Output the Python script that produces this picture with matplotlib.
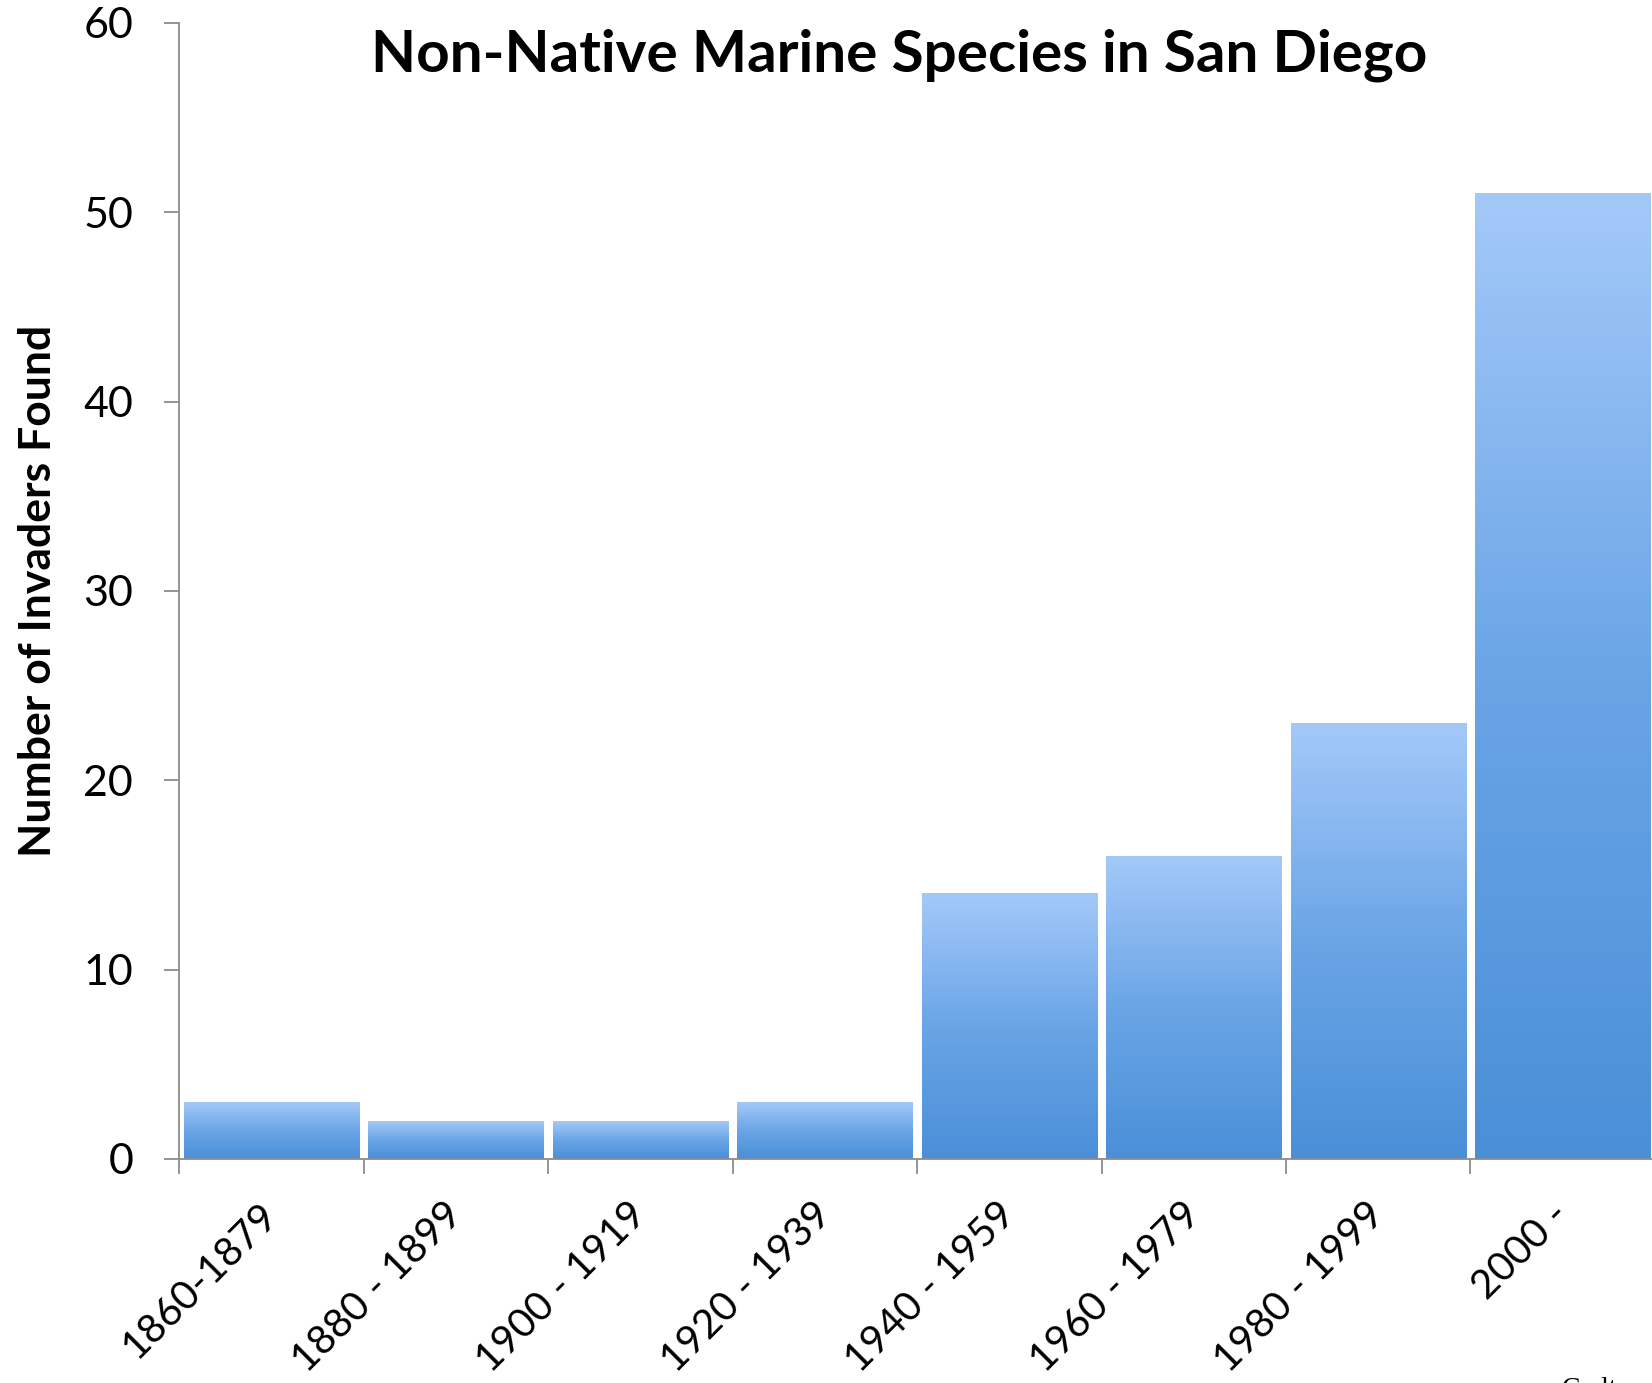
import numpy as np
import matplotlib
matplotlib.use('Agg')
import matplotlib.pyplot as plt
from matplotlib.colors import LinearSegmentedColormap

# Invaders found per time period
periods = ['1860-1879', '1880 - 1899', '1900 - 1919', '1920 - 1939',
           '1940 - 1959', '1960 - 1979', '1980 - 1999', '2000 -']
counts = [3, 2, 2, 3, 14, 16, 23, 51]
y_ticks = [0, 10, 20, 30, 40, 50, 60]

plt.rcParams['font.family'] = ['Lato', 'DejaVu Sans']

fig = plt.figure(figsize=(16.52, 13.83), dpi=100)
ax = fig.add_axes([0.1084, 0.162, 0.8934, 0.8214])

# light blue at the top fading to a deeper blue at the base
cmap = LinearSegmentedColormap.from_list('bar_fade', ['#4a8fd8', '#6aa5e6', '#a4c9f9'])
grad = np.linspace(0, 1, 256).reshape(-1, 1)
width = 0.95
for i, c in enumerate(counts):
    ax.imshow(grad, cmap=cmap, origin='lower', aspect='auto',
              extent=[i - width / 2, i + width / 2, 0, c], zorder=2)

ax.set_xlim(-0.5, len(counts) - 0.5)
ax.set_ylim(0, 60)

for side in ['top', 'right']:
    ax.spines[side].set_visible(False)
for side in ['left', 'bottom']:
    ax.spines[side].set_color('#8c8c8c')
    ax.spines[side].set_linewidth(1.3)

ax.set_yticks(y_ticks)
ax.set_yticklabels([str(v) for v in y_ticks], fontsize=31)
ax.tick_params(axis='y', direction='out', length=11, width=1.3, color='#8c8c8c', pad=22)

# boundary ticks on the x axis, labels sit under each bar
ax.set_xticks(np.arange(len(counts)) - 0.5)
ax.set_xticklabels([])
ax.tick_params(axis='x', which='major', direction='out', length=11, width=1.3, color='#8c8c8c')
ax.set_xticks(np.arange(len(counts)), minor=True)
ax.set_xticklabels(periods, minor=True, fontsize=29, rotation=45, ha='right',
                   va='center', rotation_mode='anchor')
ax.tick_params(axis='x', which='minor', length=0, pad=36)

ax.set_ylabel('Number of Invaders Found', fontsize=32, fontweight='bold')
ax.yaxis.set_label_coords(-0.082, 0.5)

fig.text(0.544, 0.960, 'Non-Native Marine Species in San Diego',
         ha='center', va='center', fontsize=42, fontweight='bold')

fig.text(0.9455, 0.0043, 'Carlton', ha='left', va='top', fontsize=20,
         family=['Liberation Serif', 'DejaVu Serif'])

fig.savefig('out.png', dpi=100)
